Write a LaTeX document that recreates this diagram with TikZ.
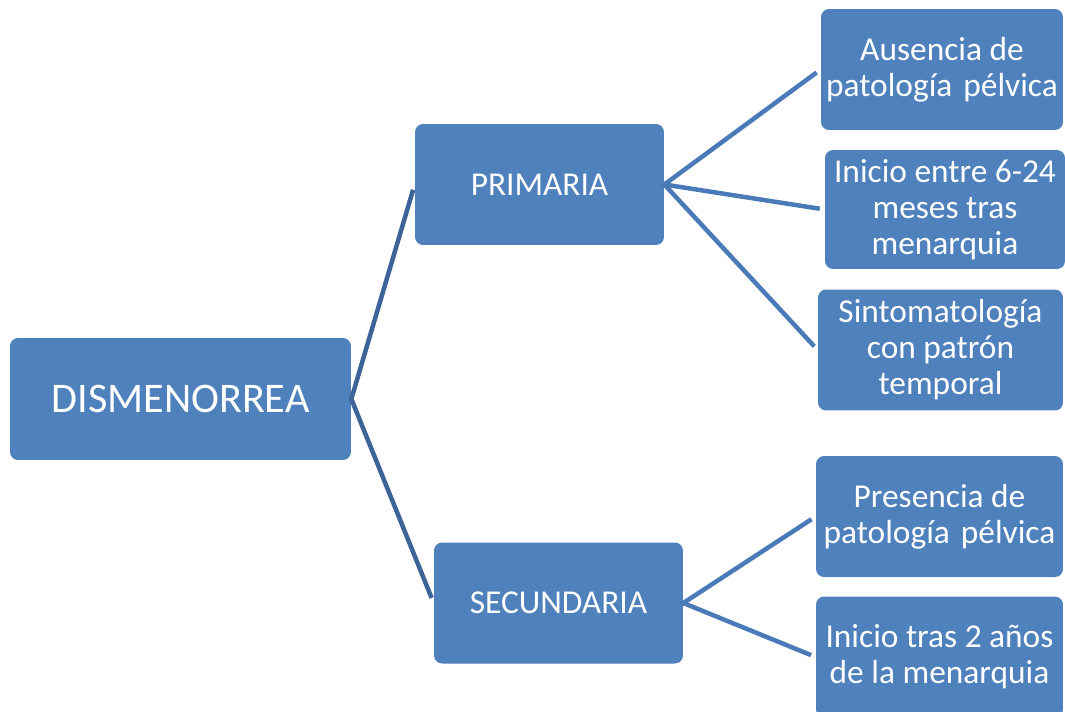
\documentclass[tikz,border=0pt]{standalone}
\usepackage{fontspec}
\setmainfont{Carlito}
\usepackage{tikz}
\usetikzlibrary{positioning,calc}
\definecolor{BoxBlue}{RGB}{79,129,189}
\definecolor{LineDark}{RGB}{60,100,152}
\definecolor{LineBlue}{RGB}{74,123,184}
\tikzset{
    rootbox/.style={fill=BoxBlue, rounded corners=0.16cm, inner sep=0pt, minimum width=6.82cm, minimum height=2.44cm, align=center, text=white, font=\fontsize{24}{29}\selectfont},
    catbox/.style={fill=BoxBlue, rounded corners=0.16cm, inner sep=0pt, minimum width=4.98cm, minimum height=2.42cm, align=center, text=white, font=\fontsize{19}{22}\selectfont},
    featbox/.style={fill=BoxBlue, rounded corners=0.16cm, inner sep=0pt, minimum width=4.9cm, minimum height=2.42cm, align=center, text=white, font=\fontsize{19}{20.5}\selectfont},
    rootline/.style={line width=0.09cm, LineDark, shorten >=0.11cm, shorten <=-0.04cm},
    featline/.style={line width=0.09cm, LineBlue, shorten >=0.1cm, shorten <=-0.04cm},
}
\begin{document}
\begin{tikzpicture}[x=0.02cm, y=-0.02cm]
\useasboundingbox (0,0) rectangle (1065,711);
\node[rootbox] (dism) at (180.5,399) {DISMENORREA};
\node[catbox] (prim) at (539.5,184.5) {PRIMARIA};
\node[catbox] (secu) at (558.5,603) {SECUNDARIA};
\node[featbox, minimum width=4.84cm] (ausencia) at (942,69.5) {Ausencia de\\patología\hspace{0.33em}pélvica};
\node[featbox, minimum width=4.8cm, minimum height=2.38cm] (inicio) at (945,209.5) {Inicio entre 6-24\\meses tras\\menarquia};
\node[featbox] (sintoma) at (940.5,350) {Sintomatología\\con patrón\\temporal};
\node[featbox, minimum width=4.94cm] (presencia) at (939.5,516.5) {Presencia de\\patología\hspace{0.33em}pélvica};
\node[featbox, minimum width=4.94cm] (tras) at (939.5,657) {Inicio tras 2 años\\de la menarquia};

\draw[rootline] (dism.east) -- (prim.west);
\draw[rootline] (dism.east) -- (secu.west);
\draw[featline] (prim.east) -- (ausencia.west);
\draw[featline] (prim.east) -- (inicio.west);
\draw[featline] (prim.east) -- (sintoma.west);
\draw[featline] (secu.east) -- (presencia.west);
\draw[featline] (secu.east) -- (tras.west);
\end{tikzpicture}
\end{document}
